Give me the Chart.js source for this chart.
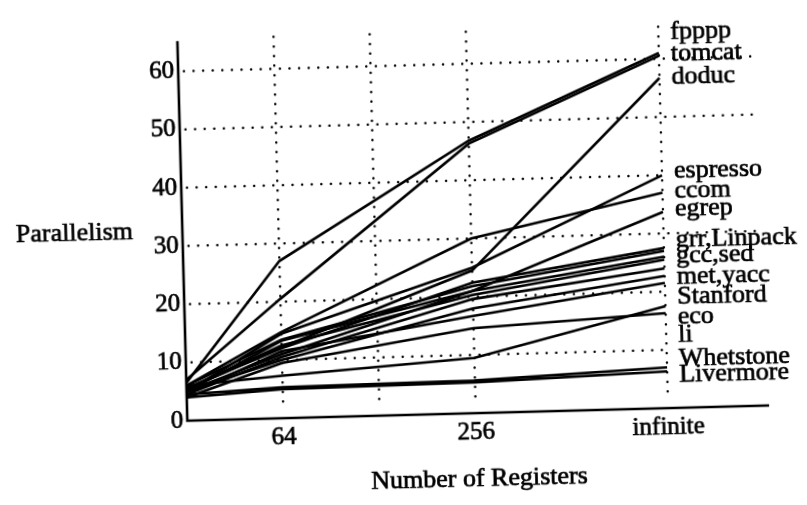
<!DOCTYPE html>
<html><head><meta charset="utf-8">
<script src="https://cdn.jsdelivr.net/npm/chart.js@4.4.1/dist/chart.umd.min.js"></script>
<style>
html,body{margin:0;padding:0;background:#fff;overflow:hidden;}
#wrap{position:absolute;left:0;top:0;width:807px;height:505px;transform:rotate(-1.5deg);transform-origin:50% 50%;}
canvas{display:block;}
</style></head><body>
<div id="wrap"><canvas id="c" width="807" height="505"></canvas></div>
<script>
// Register counts (first point is unlabelled); x placed on a log2 scale, "infinite" two steps past 256
const registerCounts = ['32', '64', '256', 'infinite'];
const registerPos = [0, 1, 3, 5];
const xTickPos = [1, 3, 5];
const xTickLabels = ['64', '256', 'infinite'];
const xGridPos = [1, 2, 3, 5];
const yTicks = [0, 10, 20, 30, 40, 50, 60];

const seriesNames = ['fpppp','tomcat','doduc','espresso','ccom','egrep','grr','Linpack','gcc','sed','met','yacc','Stanford','eco','li','Whetstone','Livermore'];
const fpppp     = [6.5, 27.0, 46.8, 61.0];
const tomcat    = [7.0, 20.5, 46.3, 60.5];
const doduc     = [5.5, 12.2, 24.5, 56.7];
const espresso  = [5.0, 14.5, 25.0, 40.0];
const ccom      = [6.0, 14.8, 30.0, 37.0];
const egrep     = [5.0, 13.3, 21.0, 33.7];
const grr       = [5.5, 12.0, 22.4, 27.5];
const Linpack   = [6.0, 13.5, 21.8, 27.0];
const gcc       = [5.0, 11.0, 21.0, 26.0];
const sed       = [5.5, 12.5, 20.3, 25.5];
const met       = [4.5, 10.5, 19.6, 24.0];
const yacc      = [5.0, 10.0, 18.0, 22.7];
const Stanford  = [4.5, 11.5, 16.7, 21.5];
const eco       = [6.0, 7.3, 9.5, 17.5];
const li        = [4.0, 9.5, 14.6, 16.3];
const Whetstone = [4.5, 5.3, 5.6, 7.0];
const Livermore = [4.0, 5.0, 5.3, 6.3];
const seriesValues = [fpppp, tomcat, doduc, espresso, ccom, egrep, grr, Linpack, gcc, sed, met, yacc, Stanford, eco, li, Whetstone, Livermore];

// Right-hand labels and the value they sit at
const endLabels = ['fpppp','tomcat','doduc','espresso','ccom','egrep','grr,Linpack','gcc,sed','met,yacc','Stanford','eco','li','Whetstone','Livermore'];
const endLabelValues = [64.6, 60.8, 56.8, 40.6, 37.3, 34.2, 28.8, 26.0, 22.4, 19.0, 15.6, 12.5, 8.4, 5.7];

const SERIF = "'Liberation Serif', 'Times New Roman', serif";

function heavyText(ctx, t, x, y) {
  ctx.strokeText(t, x, y);
  ctx.fillText(t, x, y);
}

const gridPlugin = {
  id: 'gridAxes',
  beforeDatasetsDraw(chart) {
    const {ctx, scales: {x, y}} = chart;
    ctx.save();
    ctx.strokeStyle = '#000';
    ctx.lineWidth = 2.5;
    ctx.lineCap = 'round';
    ctx.setLineDash([0, 9.6]);
    const hEnd = {10: 5, 20: 5, 30: 6, 40: 5, 50: 6, 60: 6};
    yTicks.filter(v => v > 0).forEach(v => {
      ctx.beginPath();
      ctx.moveTo(x.getPixelForValue(0.06), y.getPixelForValue(v));
      ctx.lineTo(x.getPixelForValue(hEnd[v]), y.getPixelForValue(v));
      ctx.stroke();
    });
    xGridPos.forEach(p => {
      ctx.beginPath();
      ctx.moveTo(x.getPixelForValue(p), y.getPixelForValue(65.5));
      ctx.lineTo(x.getPixelForValue(p), y.getPixelForValue(1.5));
      ctx.stroke();
    });
    ctx.setLineDash([]);
    ctx.lineCap = 'butt';
    ctx.lineWidth = 2.6;
    ctx.beginPath();
    ctx.moveTo(x.getPixelForValue(0), y.getPixelForValue(65.2));
    ctx.lineTo(x.getPixelForValue(0), y.getPixelForValue(0));
    ctx.lineTo(x.getPixelForValue(6.05), y.getPixelForValue(0));
    ctx.stroke();
    ctx.restore();
  },
  afterDatasetsDraw(chart) {
    const {ctx, scales: {x, y}} = chart;
    ctx.save();
    ctx.fillStyle = '#000';
    ctx.strokeStyle = '#000';
    ctx.lineWidth = 0.7;
    ctx.font = "26px " + SERIF;
    ctx.textBaseline = 'middle';
    ctx.textAlign = 'left';
    const lx = x.getPixelForValue(5) + 12;
    endLabels.forEach((t, i) => {
      heavyText(ctx, t, lx, y.getPixelForValue(endLabelValues[i]));
    });
    ctx.textAlign = 'center';
    heavyText(ctx, 'Parallelism', 75, y.getPixelForValue(32.6));
    heavyText(ctx, 'Number of Registers', x.getPixelForValue(3.02), 481);
    ctx.restore();
  }
};

new Chart(document.getElementById('c'), {
  type: 'line',
  data: {
    datasets: seriesValues.map((vals, i) => ({
      label: seriesNames[i],
      data: vals.map((v, j) => ({x: registerPos[j], y: v})),
      borderColor: '#000',
      backgroundColor: '#000',
      borderWidth: 2.6,
      pointRadius: 0,
      tension: 0,
      fill: false
    }))
  },
  options: {
    responsive: false,
    animation: false,
    devicePixelRatio: 1,
    layout: {padding: {left: 0, right: 27.6, top: 15, bottom: 0}},
    plugins: {legend: {display: false}, tooltip: {enabled: false}},
    scales: {
      x: {
        type: 'linear', min: 0, max: 6.2,
        grid: {display: false, drawTicks: false},
        border: {display: false},
        afterBuildTicks: s => { s.ticks = xTickPos.map(v => ({value: v})); },
        ticks: {
          callback: (v, i) => xTickLabels[i],
          font: {family: SERIF, size: 25}, color: '#000', padding: 4,
          textStrokeColor: '#000', textStrokeWidth: 0.7,
          maxRotation: 0, autoSkip: false
        },
        afterFit: s => { s.height = 90; }
      },
      y: {
        min: 0, max: 68,
        afterBuildTicks: s => { s.ticks = yTicks.map(v => ({value: v})); },
        grid: {display: false, drawTicks: false},
        border: {display: false},
        ticks: {font: {family: SERIF, size: 25}, color: '#000', padding: 4,
                textStrokeColor: '#000', textStrokeWidth: 0.7},
        afterFit: s => { s.width = 183; }
      }
    }
  },
  plugins: [gridPlugin]
});
</script>
</body></html>
